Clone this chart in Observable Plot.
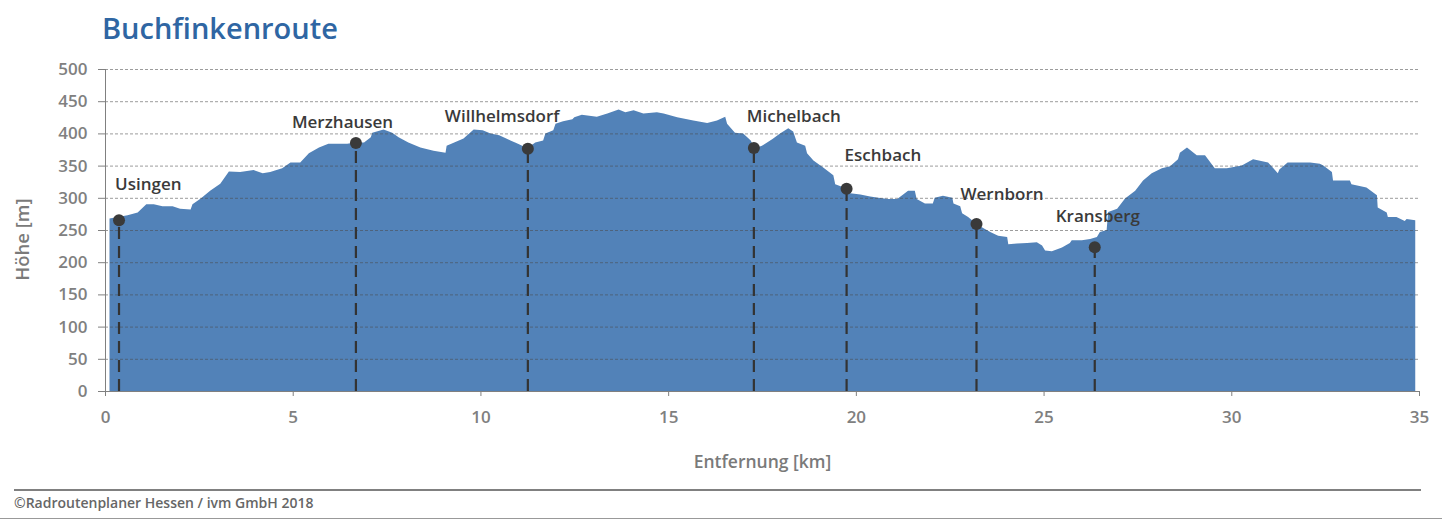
<!DOCTYPE html>
<html><head><meta charset="utf-8">
<script src="https://cdn.jsdelivr.net/npm/d3@7"></script>
<script src="https://cdn.jsdelivr.net/npm/@observablehq/plot@0.6"></script>
<style>
html,body{margin:0;padding:0;background:#fff;}
#wrap{position:relative;width:1442px;height:520px;overflow:hidden;font-family:"Open Sans",Lato,sans-serif;}
#title{position:absolute;left:102px;top:8px;font-size:29px;font-weight:600;color:#2f66a3;}
#chart{position:absolute;left:0;top:50px;}
#chart svg text{font-weight:600;}
#rule1{position:absolute;left:14px;top:489px;width:1407px;height:2px;background:#808080;}
#foot{position:absolute;left:14px;top:493px;font-size:14px;font-weight:600;color:#666;}
#rule2{position:absolute;left:0;top:518px;width:1442px;height:1px;background:#999;}
</style></head>
<body><div id="wrap">
<div id="title">Buchfinkenroute</div>
<div id="chart"></div>
<div id="rule1"></div>
<div id="foot">©Radroutenplaner Hessen / ivm GmbH 2018</div>
<div id="rule2"></div>
</div>
<script>
const profileKm = [0.12,0.6,0.87,1.1,1.3,1.53,1.8,2.0,2.28,2.33,2.55,2.8,3.07,3.3,3.6,3.96,4.2,4.4,4.72,4.94,5.2,5.43,5.7,5.95,6.45,6.67,6.9,7.08,7.12,7.42,7.65,7.82,8.08,8.4,8.75,9.07,9.1,9.55,9.82,10.06,10.27,10.5,10.8,11.0,11.25,11.46,11.67,11.73,11.94,12.0,12.2,12.45,12.5,12.7,13.1,13.38,13.68,13.86,14.08,14.34,14.7,14.88,15.24,15.67,16.04,16.3,16.52,16.57,16.78,17.0,17.2,17.3,17.5,17.77,17.98,18.2,18.33,18.43,18.65,18.7,18.87,19.13,19.4,19.45,19.74,19.85,20.12,20.38,20.6,20.86,21.1,21.26,21.39,21.57,21.62,21.84,22.05,22.1,22.32,22.57,22.6,22.78,22.83,22.99,23.2,23.39,23.58,23.79,24.03,24.06,24.29,24.56,24.82,24.96,25.04,25.22,25.49,25.7,25.75,26.02,26.24,26.42,26.5,26.68,26.72,26.96,27.17,27.44,27.65,27.88,28.15,28.37,28.58,28.63,28.82,29.08,29.3,29.56,29.88,30.28,30.58,30.98,31.24,31.28,31.5,31.83,32.1,32.36,32.45,32.68,32.71,33.16,33.2,33.6,33.88,33.9,34.14,34.17,34.4,34.62,34.67,34.9];
const profileM = [268,273,277,290,290,287,287,283,282,290,299,311,322,341,340,343,338,340,346,355,355,369,378,384,384,386,386,394,401,406,401,394,386,378,373,370,381,392,406,405,400,397,389,384,377,386,389,400,405,415,419,422,425,429,426,431,437,433,436,431,433,431,425,420,416,420,426,415,401,400,389,377,381,391,400,408,403,386,381,369,358,347,335,321,315,307,305,302,300,298,298,305,311,311,298,291,291,300,303,300,291,287,276,270,260,253,247,241,239,228,229,230,231,226,218,217,223,230,234,234,236,239,247,250,278,283,299,311,327,338,346,349,360,370,378,366,366,346,346,350,360,355,338,344,355,355,355,353,350,340,327,327,321,316,304,285,277,270,270,264,267,265];
const townNames = ["Usingen","Merzhausen","Willhelmsdorf","Michelbach","Eschbach","Wernborn","Kransberg"];
const townKm = [0.36,6.67,11.25,17.27,19.74,23.2,26.35];
const townM = [266,386,377,378,315,260,224];
const xTicks = [0,5,10,15,20,25,30,35];
const yTicks = [0,50,100,150,200,250,300,350,400,450,500];

const profile = profileKm.map((k,i)=>({km:k, m:profileM[i]}));
const towns = townNames.map((n,i)=>({name:n, km:townKm[i], m:townM[i]}));
// label placement (style, px)
const labelOffset = {Usingen:[-4,-36],Merzhausen:[-64,-20],Willhelmsdorf:[-83,-32],Michelbach:[-7,-32],Eschbach:[-2,-33],Wernborn:[-16,-30],Kransberg:[-39,-31]};

const grey = "#808080";
const labelMarks = towns.map(t => Plot.text([t], {x:"km", y:"m", text:"name", textAnchor:"start", lineAnchor:"middle",
  dx:labelOffset[t.name][0], dy:labelOffset[t.name][1], fill:"#3a3a3a", fontSize:17, fontWeight:600}));

const chart = Plot.plot({
  width:1442, height:430,
  marginTop:19, marginBottom:89, marginLeft:105, marginRight:23,
  style:{fontFamily:"'Open Sans', Lato, sans-serif", fontSize:"17px", background:"transparent"},
  x:{domain:[0,35]},
  y:{domain:[0,500]},
  marks:[
    Plot.areaY(profile,{x:"km", y:"m", fill:"#5282b8"}),
    Plot.gridY(yTicks.filter(d=>d>0),{stroke:"#4a4a4a", strokeOpacity:0.55, strokeDasharray:"3,2", strokeWidth:1}),
    Plot.ruleX(towns,{x:"km", y1:0, y2:"m", stroke:"#333", strokeWidth:2.2, strokeDasharray:"12,7"}),
    Plot.dot(towns,{x:"km", y:"m", r:6, fill:"#3a3a3a"}),
    ...labelMarks,
    Plot.ruleX([0],{stroke:grey, strokeWidth:1}),
    Plot.ruleY([0],{stroke:grey, strokeWidth:1}),
    Plot.axisY(yTicks,{anchor:"left", tickSize:7, tickPadding:11, fill:grey, stroke:grey, label:null}),
    Plot.text(["Höhe [m]"],{frameAnchor:"left", rotate:-90, dx:-82, dy:9, fill:"#7a7a7a", fontSize:18.5, fontWeight:600, lineAnchor:"middle", textAnchor:"middle"}),
    Plot.axisX(xTicks,{anchor:"bottom", tickSize:5, tickPadding:14, fill:grey, stroke:grey, label:null}),
    Plot.text(["Entfernung [km]"],{frameAnchor:"bottom", dy:71, fill:"#7a7a7a", fontSize:17.5, fontWeight:600, lineAnchor:"middle", textAnchor:"middle"})
  ]
});
document.getElementById("chart").appendChild(chart);
</script>
</body></html>
